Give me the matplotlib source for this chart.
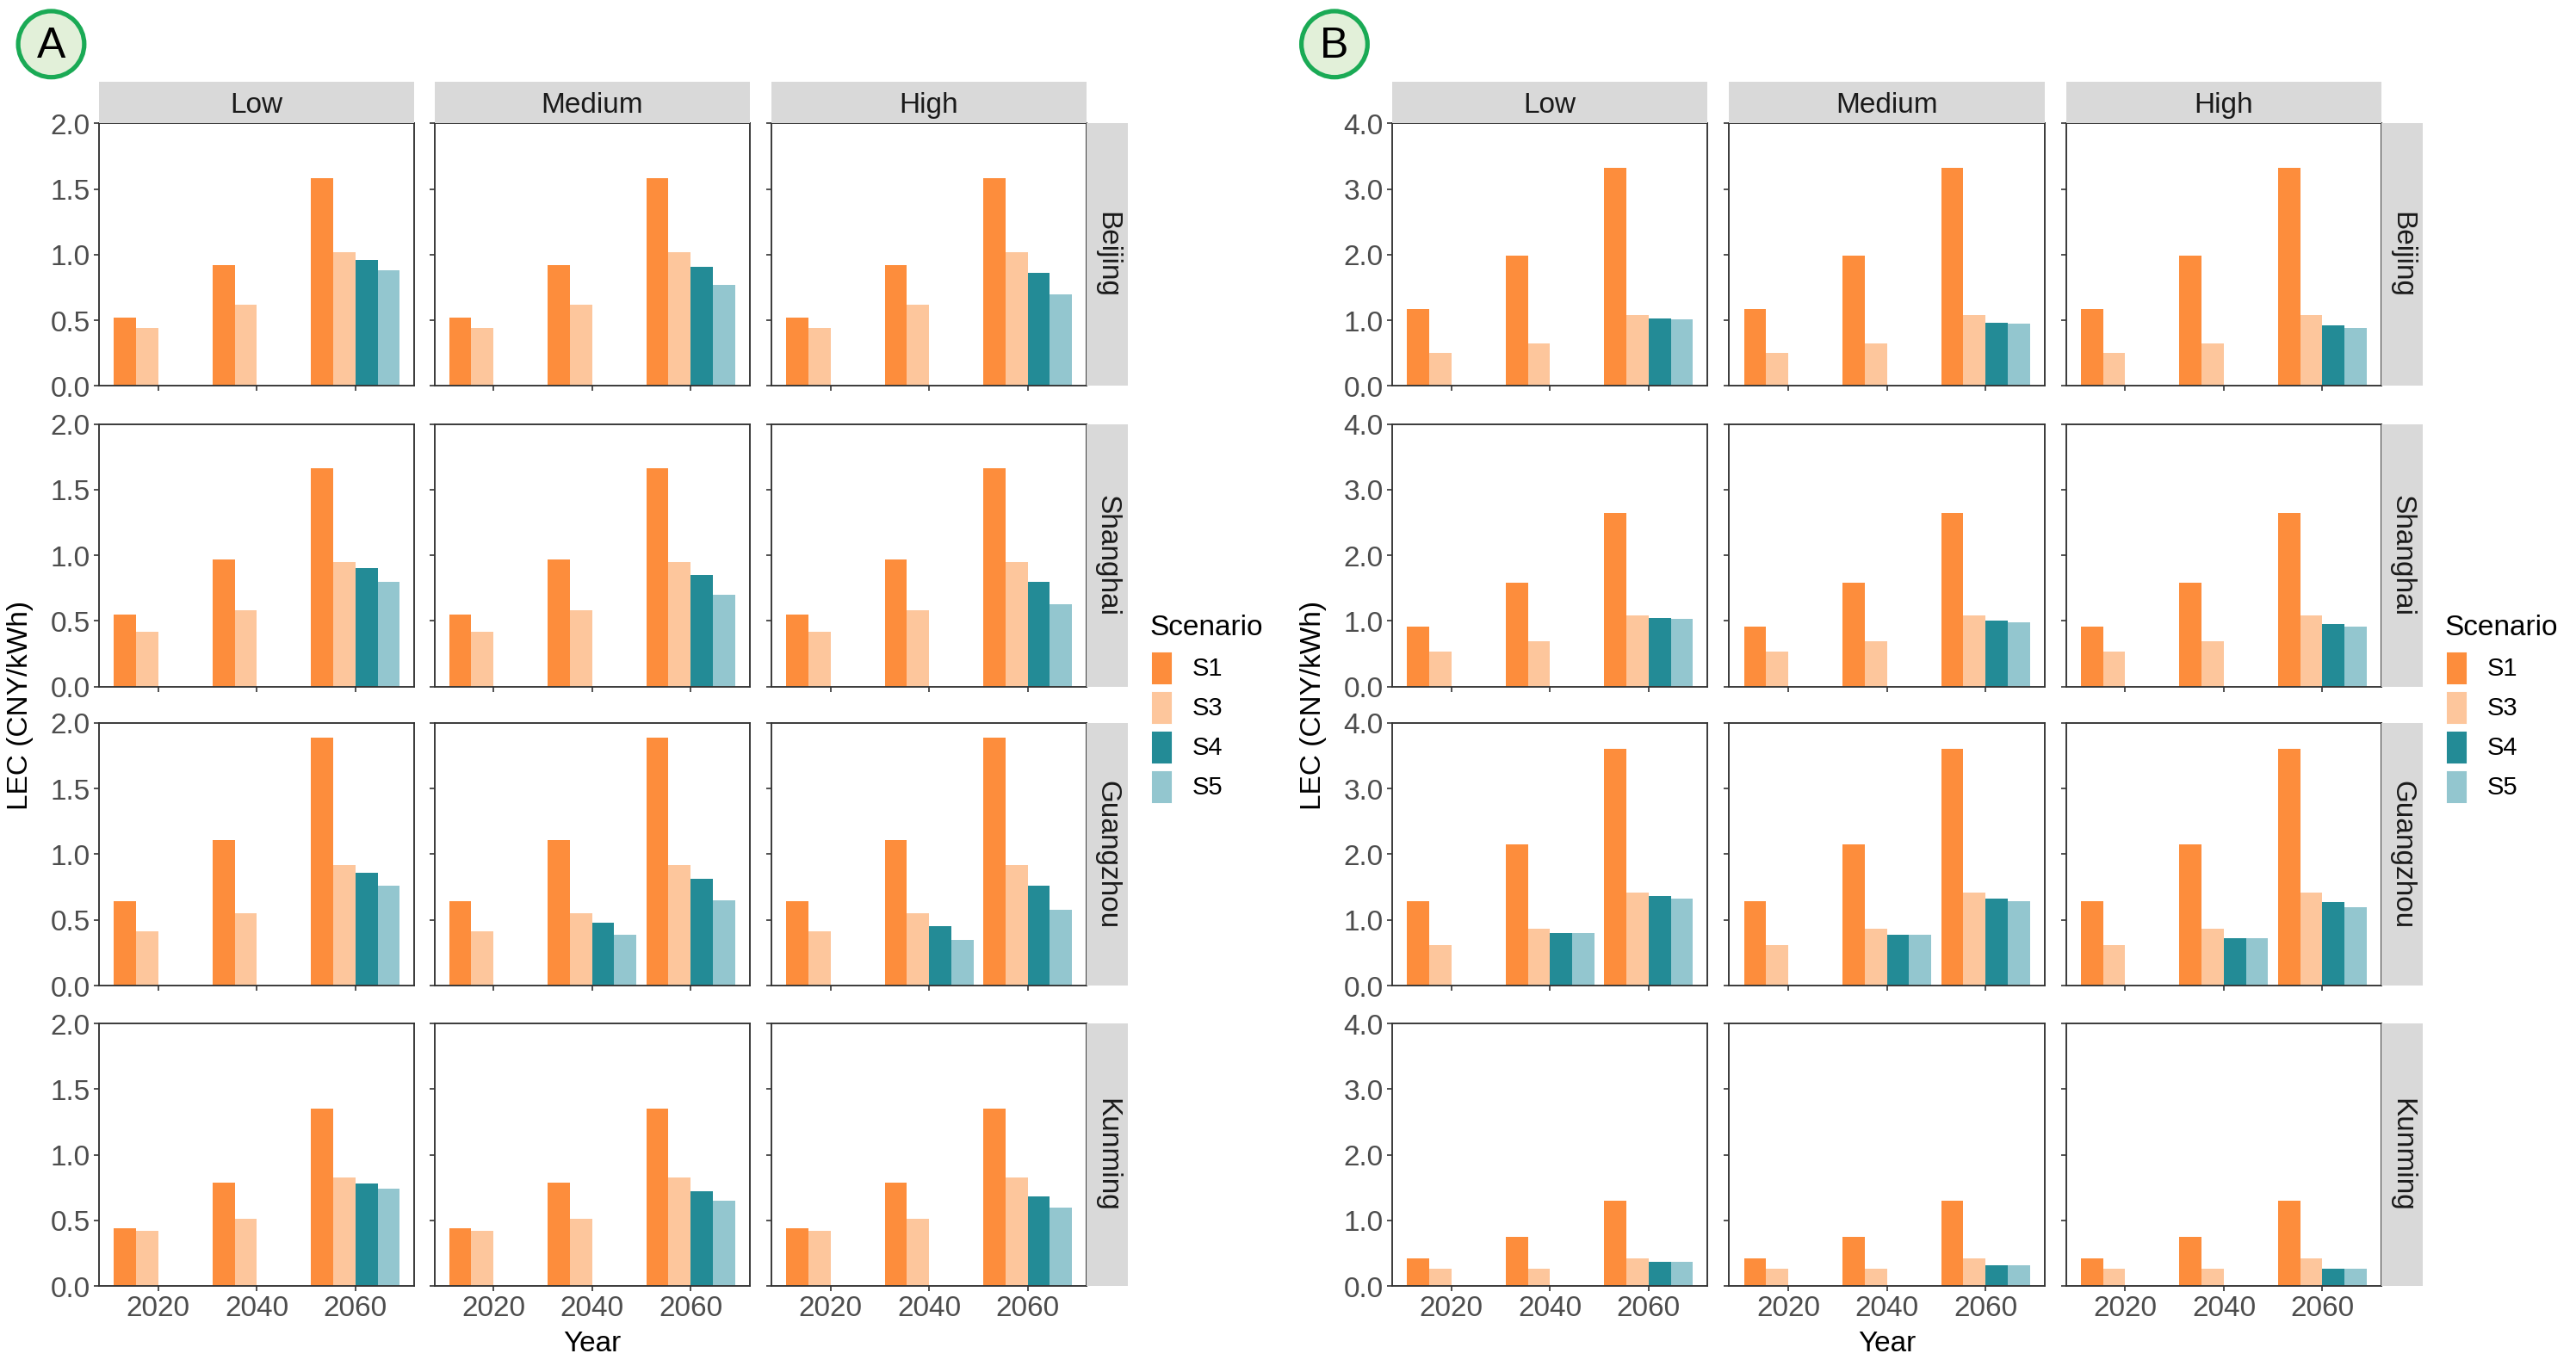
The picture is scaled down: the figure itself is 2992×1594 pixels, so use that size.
import numpy as np
import matplotlib.pyplot as plt
from matplotlib.patches import Ellipse

years = ["2020", "2040", "2060"]
levels = ["Low", "Medium", "High"]
cities = ["Beijing", "Shanghai", "Guangzhou", "Kunming"]
scenarios = ["S1", "S3", "S4", "S5"]
colors = {"S1": "#FD8D3C", "S3": "#FDC69C", "S4": "#238B96", "S5": "#93C6CF"}

# panel A: S1 and S3 per city per year (same for all levels)
a_s1 = {"Beijing": [0.52, 0.92, 1.58], "Shanghai": [0.55, 0.97, 1.66],
        "Guangzhou": [0.64, 1.11, 1.89], "Kunming": [0.44, 0.79, 1.35]}
a_s3 = {"Beijing": [0.44, 0.62, 1.02], "Shanghai": [0.42, 0.58, 0.95],
        "Guangzhou": [0.41, 0.55, 0.92], "Kunming": [0.42, 0.51, 0.83]}
# S4/S5 per level: [2040, 2060]
a_s4 = {"Beijing": [[0, 0.96], [0, 0.91], [0, 0.86]],
        "Shanghai": [[0, 0.90], [0, 0.85], [0, 0.80]],
        "Guangzhou": [[0, 0.86], [0.48, 0.81], [0.45, 0.76]],
        "Kunming": [[0, 0.78], [0, 0.72], [0, 0.68]]}
a_s5 = {"Beijing": [[0, 0.88], [0, 0.77], [0, 0.70]],
        "Shanghai": [[0, 0.80], [0, 0.70], [0, 0.63]],
        "Guangzhou": [[0, 0.76], [0.39, 0.65], [0.35, 0.58]],
        "Kunming": [[0, 0.74], [0, 0.65], [0, 0.60]]}

b_s1 = {"Beijing": [1.17, 1.98, 3.32], "Shanghai": [0.92, 1.58, 2.65],
        "Guangzhou": [1.28, 2.15, 3.60], "Kunming": [0.42, 0.75, 1.30]}
b_s3 = {"Beijing": [0.50, 0.65, 1.08], "Shanghai": [0.53, 0.69, 1.09],
        "Guangzhou": [0.62, 0.87, 1.42], "Kunming": [0.27, 0.27, 0.42]}
b_s4 = {"Beijing": [[0, 1.03], [0, 0.97], [0, 0.92]],
        "Shanghai": [[0, 1.05], [0, 1.00], [0, 0.95]],
        "Guangzhou": [[0.80, 1.36], [0.77, 1.32], [0.72, 1.27]],
        "Kunming": [[0, 0.37], [0, 0.32], [0, 0.27]]}
b_s5 = {"Beijing": [[0, 1.02], [0, 0.95], [0, 0.89]],
        "Shanghai": [[0, 1.03], [0, 0.98], [0, 0.92]],
        "Guangzhou": [[0.80, 1.33], [0.77, 1.28], [0.72, 1.19]],
        "Kunming": [[0, 0.37], [0, 0.32], [0, 0.27]]}

W, H = 1560.0, 831.0
fig = plt.figure(figsize=(19.95, 10.63), dpi=150)
plt.rcParams['font.family'] = ['Liberation Sans', 'DejaVu Sans']

def fx(x):
    return x / W

def fy(y):
    return 1 - y / H

col_x = [[60, 263, 467], [843, 1047, 1251]]
panel_w = 191
row_y = [75, 257, 438, 620]
panel_h = 159
BW = 0.225
off = {"S1": -1.5 * BW, "S3": -0.5 * BW, "S4": 0.5 * BW, "S5": 1.5 * BW}
FS = 16

def draw_panel(p, s1, s3, s4, s5, ymax, yticks, ylabels, label, lx):
    for r, city in enumerate(cities):
        for c, lev in enumerate(levels):
            x0 = col_x[p][c]
            y0 = row_y[r]
            ax = fig.add_axes([fx(x0), fy(y0 + panel_h), fx(panel_w), panel_h / H])
            xs = np.arange(3)
            ax.bar(xs + off["S1"], s1[city], BW, color=colors["S1"])
            ax.bar(xs + off["S3"], s3[city], BW, color=colors["S3"])
            ax.bar(xs[1:] + off["S4"], s4[city][c], BW, color=colors["S4"])
            ax.bar(xs[1:] + off["S5"], s5[city][c], BW, color=colors["S5"])
            ax.set_xlim(-0.6, 2.6)
            ax.set_ylim(0, ymax)
            for s in ax.spines.values():
                s.set_color("#333333")
                s.set_linewidth(0.9)
            ax.tick_params(length=3, color="#333333", labelcolor="#4d4d4d", labelsize=FS, pad=2)
            ax.set_xticks(xs)
            if r == 3:
                ax.set_xticklabels(years)
            else:
                ax.set_xticklabels([])
            ax.set_yticks(yticks)
            if c == 0:
                ax.set_yticklabels(ylabels)
            else:
                ax.set_yticklabels([])
            if r == 0:
                sa = fig.add_axes([fx(x0), fy(75), fx(panel_w), 25 / H])
                sa.set_facecolor("#D9D9D9")
                sa.set_xticks([]); sa.set_yticks([])
                for s in sa.spines.values():
                    s.set_visible(False)
                sa.text(0.5, 0.45, lev, ha="center", va="center", fontsize=FS, color="#1a1a1a")
            if c == 2:
                sa = fig.add_axes([fx(x0 + panel_w), fy(y0 + panel_h), fx(25), panel_h / H])
                sa.set_facecolor("#D9D9D9")
                sa.set_xticks([]); sa.set_yticks([])
                for s in sa.spines.values():
                    s.set_visible(False)
                sa.text(0.5, 0.5, city, ha="center", va="center", rotation=-90, fontsize=FS, color="#1a1a1a")
    x_mid = col_x[p][1] + panel_w / 2
    fig.text(fx(x_mid), fy(814), "Year", ha="center", va="center", fontsize=FS)
    fig.text(fx(col_x[p][0] - 48), 0.5 * (fy(75) + fy(779)), "LEC (CNY/kWh)", rotation=90,
             ha="center", va="center", fontsize=FS)
    # panel letter
    e = Ellipse((fx(lx), fy(27)), fx(40), 40 / H, facecolor="#E2F0D9", edgecolor="#1AAA55",
                lw=2.5, transform=fig.transFigure)
    fig.patches.append(e)
    fig.text(fx(lx), fy(28), label, ha="center", va="center", fontsize=24)
    # legend
    lgx = col_x[p][2] + panel_w + 25 + 15
    fig.text(fx(lgx - 2), fy(380), "Scenario", ha="left", va="center", fontsize=FS)
    for i, s in enumerate(scenarios):
        yy = 405 + i * 24
        fig.patches.append(plt.Rectangle((fx(lgx), fy(yy + 9)), fx(11), 18 / H,
                                         color=colors[s], transform=fig.transFigure))
        fig.text(fx(lgx + 24), fy(yy), s, ha="left", va="center", fontsize=14)

draw_panel(0, a_s1, a_s3, a_s4, a_s5, 2.0, [0, 0.5, 1.0, 1.5, 2.0],
           ["0.0", "0.5", "1.0", "1.5", "2.0"], "A", 31)
draw_panel(1, b_s1, b_s3, b_s4, b_s5, 4.0, [0, 1, 2, 3, 4],
           ["0.0", "1.0", "2.0", "3.0", "4.0"], "B", 808)

fig.savefig("out.png", dpi=150)
